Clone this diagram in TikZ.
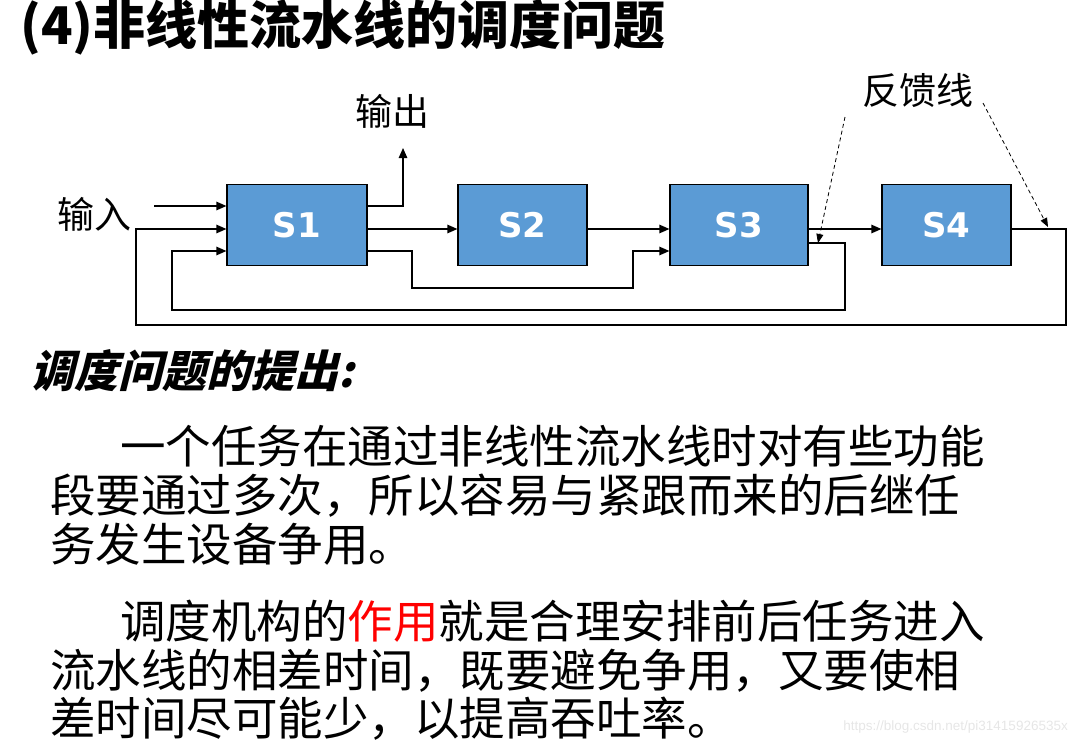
\documentclass[tikz,border=0pt]{standalone}
\usepackage{fontspec}
\setmainfont{Noto Sans CJK SC}
\newfontfamily\headfont{Noto Sans CJK SC}[FakeSlant=0.25]
\newfontfamily\stagefont{DejaVu Sans}
\newfontfamily\markfont{Liberation Sans}
\usetikzlibrary{arrows.meta,positioning}
\definecolor{stagefill}{HTML}{5B9BD5}
\definecolor{hilite}{HTML}{FF0000}
\definecolor{wmark}{HTML}{E6E6E6}

\begin{document}
\begin{tikzpicture}[x=1pt, y=-1pt,
  stagebox/.style={draw, line width=1.2pt, fill=stagefill, minimum height=81pt, minimum width=#1, inner sep=0pt,
    text=white, font=\stagefont\bfseries\fontsize{34}{34}\selectfont},
  link/.style={line width=1.2pt},
  arrow/.style={link, -{Triangle[length=10pt, width=8.5pt]}},
  dasharrow/.style={line width=0.8pt, dash pattern=on 4pt off 3pt, -{Triangle[length=9pt, width=7pt]}},
  tag/.style={inner sep=0pt, anchor=west, font=\fontsize{37}{37}\selectfont},
  body/.style={inner sep=0pt, anchor=west, font=\fontsize{45.5}{45.5}\selectfont}
]
  \useasboundingbox (0,0) rectangle (1078,747);

  % Title
  \node[inner sep=0pt, anchor=west, font=\bfseries\fontsize{52}{52}\selectfont] (title) at (20,27) {(4)非线性流水线的调度问题};

  % Stages
  \node[stagebox=140pt] (s1) at (297,224.75) {S1};
  \node[stagebox=129pt] (s2) at (522.5,224.75) {S2};
  \node[stagebox=138pt] (s3) at (739,224.75) {S3};
  \node[stagebox=129pt] (s4) at (946.5,224.75) {S4};

  % Labels
  \node[tag] (inlbl) at (57,214) {输入};
  \node[tag] (outlbl) at (355,111) {输出};
  \node[tag] (fblbl) at (862,90) {反馈线};

  % Rows and corners
  \coordinate (in) at (154,206);
  \coordinate (rowb) at (0,229);
  \coordinate (rowc) at (0,251);
  \coordinate (rowd) at (0,243);
  \coordinate (outtip) at (403,148);
  \coordinate (byp1) at (412,288);
  \coordinate (byp2) at (633,288);
  \coordinate (fb3a) at (845,310);
  \coordinate (fb3b) at (172,310);
  \coordinate (fb4a) at (1066,325);
  \coordinate (fb4b) at (136,325);

  % Forward arrows
  \draw[arrow] (in) -- (in -| s1.west);
  \draw[arrow] (s1.east |- in) -| (outtip);
  \draw[arrow] (s1.east |- rowb) -- (s2.west |- rowb);
  \draw[arrow] (s1.east |- rowc) -| (byp1) -- (byp2) |- (s3.west |- rowc);
  \draw[arrow] (s2.east |- rowb) -- (s3.west |- rowb);
  \draw[arrow] (s3.east |- rowb) -- (s4.west |- rowb);

  % Feedback loops
  \draw[arrow] (s3.east |- rowd) -| (fb3a) -- (fb3b) |- (s1.west |- rowc);
  \draw[arrow] (s4.east |- rowb) -| (fb4a) -- (fb4b) |- (s1.west |- rowb);

  % Pointers from the label
  \coordinate (p1) at (845,117);
  \coordinate (p2) at (983,103);
  \draw[dasharrow] (p1) -- (818,243);
  \draw[dasharrow] (p2) -- (1048,227);

  % Text
  \node[inner sep=0pt, anchor=west, font=\headfont\bfseries\fontsize{44}{44}\selectfont] (head) at (30,371) {调度问题的提出:};
  \node[body] (l1) at (120,446) {一个任务在通过非线性流水线时对有些功能};
  \node[body] (l2) at (50,496) {段要通过多次，所以容易与紧跟而来的后继任};
  \node[body] (l3) at (50,544) {务发生设备争用。};
  \node[body] (l4) at (120,621) {调度机构的\textcolor{hilite}{作用}就是合理安排前后任务进入};
  \node[body] (l5) at (50,671) {流水线的相差时间，既要避免争用，又要使相};
  \node[body] (l6) at (50,719) {差时间尽可能少，以提高吞吐率。};

  \node[inner sep=0pt, anchor=east, text=wmark, font=\markfont\fontsize{13.5}{13.5}\selectfont] (mark) at (1068,727) {https://blog.csdn.net/pi31415926535x};
\end{tikzpicture}
\end{document}
